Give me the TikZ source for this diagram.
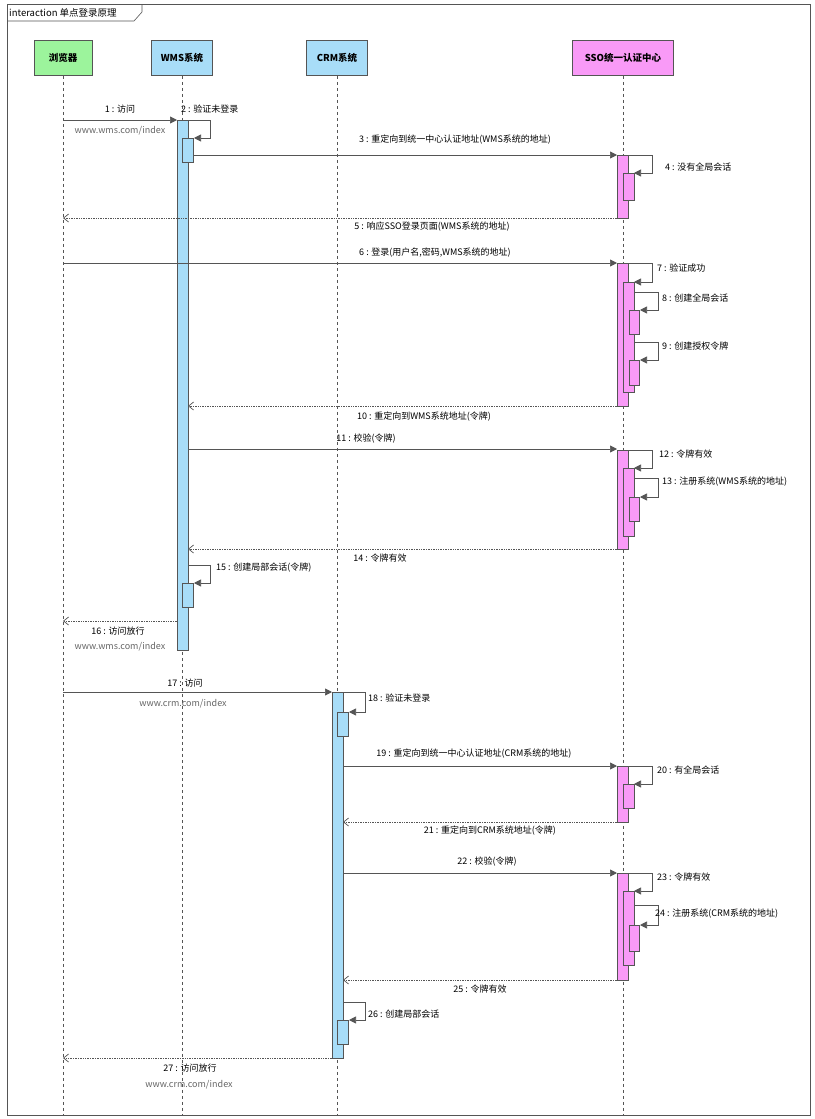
\documentclass[tikz,border=0pt]{standalone}
\usepackage{fontspec}
\setmainfont{Noto Sans CJK SC}
\usetikzlibrary{arrows.meta}
\definecolor{cgreen}{HTML}{9CF49C}
\definecolor{cblue}{HTML}{A8DDF8}
\definecolor{cpink}{HTML}{F99AF7}
\definecolor{cline}{HTML}{555555}
\tikzset{
  head/.style={draw=cline,line width=0.8pt,minimum width=#1,minimum height=35pt,font=\fontsize{9.5}{10}\selectfont\bfseries,anchor=north},
  life/.style={draw=cline,dashed,line width=0.5pt},
  msg/.style={draw=cline,line width=0.7pt,-{Triangle[length=7pt,width=7pt]}},
  ret/.style={draw=cline,line width=0.7pt,densely dotted,-{Straight Barb[length=5pt,width=8pt]}},
  lbl/.style={font=\fontsize{9}{10}\selectfont,inner sep=1pt},
  url/.style={font=\fontsize{9}{10}\selectfont,text=gray!80!black,inner sep=1pt},
  bar/.style={draw=cline,line width=0.6pt},
}
\newcommand{\abar}[5]{\filldraw[bar,fill=#5] (#1,#2) rectangle (#3,#4);}
\newcommand{\sloop}[4]{\draw[msg] (#1,#2) -- (#3,#2) -- (#3,#4) -- (#1+6,#4);}
\begin{document}
\begin{tikzpicture}[x=1pt,y=-1pt]
\useasboundingbox (0,0) rectangle (814,1119);
\draw[cline,line width=0.8pt] (7,4) rectangle (810,1115);
\draw[cline,line width=0.6pt] (7,21) -- (134,21) -- (142,12) -- (142,4);
\node[lbl,anchor=west,font=\fontsize{9.5}{10}\selectfont] (title) at (8,12.5) {interaction 单点登录原理};
% heads
\node[head=58pt,fill=cgreen] (b) at (63,40) {浏览器};
\node[head=61pt,fill=cblue] (w) at (182,40) {WMS系统};
\node[head=61pt,fill=cblue] (c) at (337,40) {CRM系统};
\node[head=101pt,fill=cpink] (s) at (623,40) {SSO统一认证中心};
\coordinate (bE) at (63,1115); \coordinate (wE) at (182,1115);
\coordinate (cE) at (337,1115); \coordinate (sE) at (623,1115);
\draw[life] (b.south) -- (bE); \draw[life] (w.south) -- (wE);
\draw[life] (c.south) -- (cE); \draw[life] (s.south) -- (sE);
% WMS
\abar{177}{120}{188}{650}{cblue}
\coordinate (m1a) at (63,120); \coordinate (m1b) at (177,120);
\draw[msg] (m1a) -- (m1b);
\node[lbl] at (120,109) {1 : 访问};
\node[url] at (120,131) {www.wms.com/index};
\sloop{188}{120}{210}{138}
\abar{182}{138}{193}{162}{cblue}
\node[lbl,anchor=west] at (180,109) {2 : 验证未登录};
\draw[msg] (193,155) -- (617,155);
\node[lbl] at (455,140) {3 : 重定向到统一中心认证地址(WMS系统的地址)};
\abar{617}{155}{628}{218}{cpink}
\sloop{628}{155}{652}{173}
\abar{623}{173}{634}{200}{cpink}
\node[lbl,anchor=west] at (664,167) {4 : 没有全局会话};
\draw[ret] (617,218) -- (63,218);
\node[lbl] at (432,227) {5 : 响应SSO登录页面(WMS系统的地址)};
\draw[msg] (63,263) -- (617,263);
\node[lbl] at (435,253) {6 : 登录(用户名,密码,WMS系统的地址)};
\abar{617}{263}{628}{406}{cpink}
\sloop{628}{263}{652}{282}
\abar{623}{282}{634}{392}{cpink}
\node[lbl,anchor=west] at (656,268) {7 : 验证成功};
\sloop{634}{292}{658}{310}
\abar{629}{310}{639}{334}{cpink}
\node[lbl,anchor=west] at (661,298) {8 : 创建全局会话};
\sloop{634}{342}{658}{360}
\abar{629}{360}{639}{385}{cpink}
\node[lbl,anchor=west] at (661,346) {9 : 创建授权令牌};
\draw[ret] (617,406) -- (188,406);
\node[lbl] at (424,417) {10 : 重定向到WMS系统地址(令牌)};
\draw[msg] (188,449) -- (617,449);
\node[lbl] at (366,439) {11 : 校验(令牌)};
\abar{617}{450}{628}{549}{cpink}
\sloop{628}{450}{652}{468}
\abar{623}{468}{634}{536}{cpink}
\node[lbl,anchor=west] at (658,454) {12 : 令牌有效};
\sloop{634}{478}{658}{497}
\abar{629}{497}{639}{521}{cpink}
\node[lbl,anchor=west] at (661,482) {13 : 注册系统(WMS系统的地址)};
\draw[ret] (617,549) -- (188,549);
\node[lbl] at (380,558) {14 : 令牌有效};
\sloop{188}{565}{210}{583}
\abar{182}{583}{193}{607}{cblue}
\node[lbl,anchor=west] at (215,568) {15 : 创建局部会话(令牌)};
\draw[ret] (177,621) -- (63,621);
\node[lbl] at (118,631) {16 : 访问放行};
\node[url] at (120,647) {www.wms.com/index};
% CRM
\draw[msg] (63,692) -- (332,692);
\node[lbl] at (185,683) {17 : 访问};
\node[url] at (183,704) {www.crm.com/index};
\abar{332}{692}{343}{1058}{cblue}
\sloop{343}{692}{365}{712}
\abar{337}{712}{348}{736}{cblue}
\node[lbl,anchor=west] at (367,698) {18 : 验证未登录};
\draw[msg] (343,766) -- (617,766);
\node[lbl] at (474,754) {19 : 重定向到统一中心认证地址(CRM系统的地址)};
\abar{617}{766}{628}{822}{cpink}
\sloop{628}{766}{652}{784}
\abar{623}{784}{634}{808}{cpink}
\node[lbl,anchor=west] at (656,770) {20 : 有全局会话};
\draw[ret] (617,822) -- (343,822);
\node[lbl] at (490,831) {21 : 重定向到CRM系统地址(令牌)};
\draw[msg] (343,873) -- (617,873);
\node[lbl] at (487,862) {22 : 校验(令牌)};
\abar{617}{873}{628}{980}{cpink}
\sloop{628}{873}{652}{891}
\abar{623}{891}{634}{965}{cpink}
\node[lbl,anchor=west] at (656,877) {23 : 令牌有效};
\sloop{634}{905}{658}{925}
\abar{629}{925}{639}{951}{cpink}
\node[lbl,anchor=west] at (654,914) {24 : 注册系统(CRM系统的地址)};
\draw[ret] (617,980) -- (343,980);
\node[lbl] at (480,989) {25 : 令牌有效};
\sloop{343}{1002}{365}{1020}
\abar{337}{1020}{348}{1044}{cblue}
\node[lbl,anchor=west] at (367,1014) {26 : 创建局部会话};
\draw[ret] (332,1058) -- (63,1058);
\node[lbl] at (190,1068) {27 : 访问放行};
\node[url] at (189,1085) {www.crm.com/index};
\end{tikzpicture}
\end{document}
